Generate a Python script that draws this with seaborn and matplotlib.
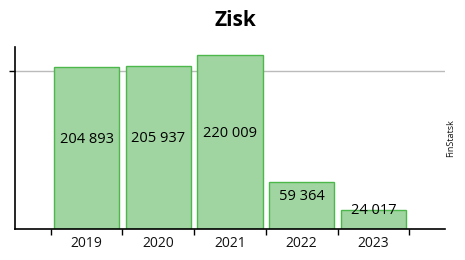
import matplotlib
matplotlib.use("Agg")
import matplotlib.pyplot as plt
import seaborn as sns
import pandas as pd
import numpy as np

years = ["2019", "2020", "2021", "2022", "2023"]
values = [204893, 205937, 220009, 59364, 24017]
labels = ["204 893", "205 937", "220 009", "59 364", "24 017"]

sns.set_theme(style="white")
plt.rcParams["font.family"] = ["Open Sans", "DejaVu Sans"]

df = pd.DataFrame({"year": years, "value": values})

fig = plt.figure(figsize=(4.65, 2.6), dpi=100)
ax = fig.add_axes([15/465, 1 - 229/260, 430/465, 182/260])

sns.barplot(data=df, x="year", y="value", ax=ax, color="#a0d4a0",
            saturation=1, width=0.91, edgecolor="#4cb84c", linewidth=1)

for i, (v, lab) in enumerate(zip(values, labels)):
    ax.text(i, v / 2 + 1500, lab, ha="center", va="bottom", fontsize=10.5, color="black")

ax.set_xlim(-1, 5)
ax.set_ylim(0, 230000)
ax.set_yticks([200000])
ax.set_yticklabels([""])
ax.axhline(200000, color="#bbbbbb", linewidth=1, zorder=0)

ax.set_xticks(np.arange(-0.5, 5, 1))
ax.set_xticklabels([""] * 6)
ax.set_xticks(range(5), minor=True)
ax.set_xticklabels(years, minor=True, fontsize=10, color="#111111")
ax.tick_params(axis="x", which="minor", length=0, pad=5)
ax.tick_params(axis="x", which="major", length=4, width=1, color="black", direction="out", bottom=True)
ax.tick_params(axis="y", which="major", length=4, width=1, color="black", direction="out", left=True)
ax.set_xlabel("")
ax.set_ylabel("")

for s in ["top", "right"]:
    ax.spines[s].set_visible(False)
for s in ["left", "bottom"]:
    ax.spines[s].set_color("black")
    ax.spines[s].set_linewidth(1.2)

fig.text(235/465, 1 - 20/260, "Zisk", ha="center", va="center", fontsize=15, fontweight="bold", color="black")
fig.text(451/465, 1 - 138/260, "FinStatsk", ha="center", va="center", rotation=90, fontsize=6.5, color="#111111")

fig.savefig("out.png", dpi=100)
